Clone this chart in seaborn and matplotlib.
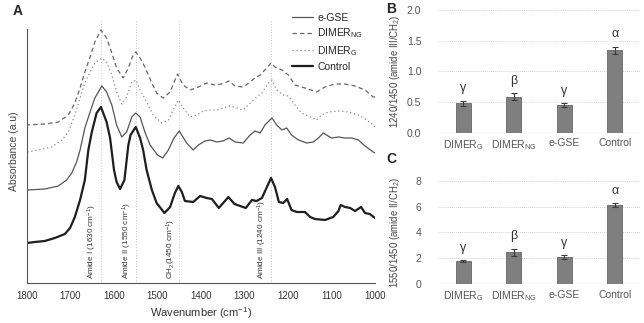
import matplotlib
matplotlib.use("Agg")
import matplotlib.pyplot as plt
import seaborn as sns

# ---- panel A: FTIR spectra, absorbance in arbitrary units
wn_control = [1800, 1782, 1759, 1736, 1713, 1701, 1690, 1678, 1667, 1659, 1651, 1640,
              1630, 1617, 1609, 1600, 1594, 1586, 1576, 1567, 1562, 1550, 1540, 1533,
              1525, 1513, 1502, 1484, 1471, 1460, 1452, 1444, 1437, 1418, 1402, 1387,
              1375, 1359, 1337, 1323, 1310, 1297, 1283, 1272, 1260, 1239, 1230, 1221,
              1211, 1202, 1192, 1180, 1161, 1149, 1138, 1115, 1096, 1084, 1079, 1069,
              1057, 1046, 1032, 1023, 1012, 1000]
abs_control = [0.40, 0.41, 0.42, 0.45, 0.49, 0.55, 0.66, 0.83, 1.03, 1.33, 1.51, 1.70,
               1.76, 1.61, 1.45, 1.13, 1.01, 0.94, 1.03, 1.38, 1.48, 1.56, 1.45, 1.33,
               1.13, 0.93, 0.80, 0.70, 0.76, 0.90, 0.97, 0.91, 0.82, 0.81, 0.87, 0.85,
               0.84, 0.75, 0.86, 0.79, 0.77, 0.75, 0.83, 0.82, 0.85, 1.05, 0.96, 0.81,
               0.80, 0.84, 0.73, 0.71, 0.71, 0.66, 0.64, 0.63, 0.66, 0.72, 0.78, 0.76,
               0.75, 0.72, 0.76, 0.70, 0.69, 0.65]

wn_egse = [1800, 1759, 1728, 1709, 1697, 1686, 1678, 1667, 1655, 1644, 1628, 1617,
           1605, 1594, 1582, 1571, 1559, 1550, 1540, 1529, 1517, 1500, 1488, 1475,
           1462, 1450, 1433, 1418, 1406, 1391, 1378, 1364, 1350, 1335, 1322, 1303,
           1287, 1276, 1264, 1253, 1237, 1226, 1214, 1203, 1192, 1176, 1157, 1142,
           1130, 1119, 1100, 1084, 1069, 1054, 1038, 1023, 1004, 1000]
abs_egse = [0.93, 0.94, 0.97, 1.03, 1.10, 1.21, 1.33, 1.55, 1.71, 1.85, 1.97, 1.91,
            1.78, 1.58, 1.46, 1.51, 1.66, 1.70, 1.66, 1.51, 1.38, 1.28, 1.25, 1.33,
            1.45, 1.52, 1.40, 1.33, 1.38, 1.42, 1.43, 1.41, 1.42, 1.45, 1.41, 1.40,
            1.48, 1.52, 1.50, 1.58, 1.65, 1.58, 1.53, 1.55, 1.48, 1.43, 1.40, 1.41,
            1.45, 1.50, 1.45, 1.46, 1.45, 1.45, 1.43, 1.37, 1.31, 1.30]

wn_dimer_g = [1800, 1774, 1743, 1720, 1705, 1690, 1678, 1667, 1655, 1644, 1628, 1617,
              1605, 1594, 1582, 1571, 1559, 1549, 1540, 1525, 1510, 1490, 1475, 1464,
              1452, 1441, 1425, 1410, 1395, 1379, 1364, 1349, 1333, 1318, 1303, 1287,
              1272, 1260, 1245, 1237, 1226, 1211, 1199, 1184, 1169, 1149, 1134, 1123,
              1107, 1084, 1061, 1038, 1019, 1004, 1000]
abs_dimer_g = [1.31, 1.33, 1.36, 1.43, 1.51, 1.68, 1.85, 2.00, 2.11, 2.20, 2.25, 2.21,
               2.08, 1.91, 1.79, 1.86, 2.01, 2.03, 1.93, 1.81, 1.68, 1.60, 1.63, 1.73,
               1.83, 1.75, 1.66, 1.68, 1.72, 1.73, 1.73, 1.75, 1.77, 1.75, 1.73, 1.80,
               1.86, 1.90, 2.00, 2.03, 1.93, 1.88, 1.87, 1.78, 1.70, 1.66, 1.63, 1.68,
               1.71, 1.72, 1.71, 1.68, 1.63, 1.58, 1.56]

wn_dimer_ng = [1800, 1759, 1728, 1705, 1690, 1678, 1667, 1655, 1644, 1630, 1617, 1605,
               1594, 1579, 1567, 1558, 1550, 1540, 1529, 1513, 1502, 1487, 1471, 1454,
               1441, 1425, 1406, 1387, 1368, 1353, 1335, 1322, 1303, 1287, 1276, 1264,
               1249, 1239, 1230, 1214, 1199, 1184, 1161, 1134, 1115, 1092, 1069, 1046,
               1023, 1004, 1000]
abs_dimer_ng = [1.58, 1.59, 1.61, 1.68, 1.80, 1.95, 2.11, 2.26, 2.41, 2.53, 2.45, 2.30,
                2.15, 2.05, 2.15, 2.26, 2.31, 2.25, 2.16, 2.00, 1.90, 1.85, 1.91, 2.09,
                1.98, 1.93, 1.96, 2.00, 1.98, 1.99, 2.02, 1.97, 1.96, 2.01, 2.05, 2.08,
                2.15, 2.20, 2.16, 2.13, 2.08, 1.98, 1.95, 1.91, 1.96, 1.99, 1.99, 1.97,
                1.93, 1.86, 1.86]

peak_wn = [1630, 1550, 1450, 1240]
peak_labels = ["Amide I (1630 cm$^{-1}$)", "Amide II (1550 cm$^{-1}$)",
               "CH$_2$(1450 cm$^{-1}$)", "Amide III (1240 cm$^{-1}$)"]

# ---- panels B and C: band ratios
samples = ["DIMER$_G$", "DIMER$_{NG}$", "e-GSE", "Control"]
ratio_1240 = [0.48, 0.59, 0.45, 1.34]
err_1240 = [0.04, 0.05, 0.03, 0.06]
ratio_1550 = [1.78, 2.46, 2.07, 6.12]
err_1550 = [0.05, 0.28, 0.15, 0.12]
letters = ["γ", "β", "γ", "α"]

sns.set_style("white")
plt.rcParams["font.family"] = ["Liberation Sans", "DejaVu Sans"]
plt.rcParams["mathtext.default"] = "regular"

fig = plt.figure(figsize=(6.44, 3.23), dpi=100)
W, H = 644, 323

# ---------------- panel A
ax = fig.add_axes([27 / W, 1 - 283 / H, 348 / W, 263 / H])
spectra = [
    ("e-GSE", wn_egse, abs_egse, dict(color="#555555", linewidth=0.9, linestyle="-")),
    ("DIMER$_{NG}$", wn_dimer_ng, abs_dimer_ng, dict(color="#666666", linewidth=0.9, linestyle=(0, (3.5, 2.5)))),
    ("DIMER$_G$", wn_dimer_g, abs_dimer_g, dict(color="#8a8a8a", linewidth=0.9, linestyle=(0, (1, 2.2)))),
    ("Control", wn_control, abs_control, dict(color="#1e1e1e", linewidth=1.6, linestyle="-")),
]
for name, wn, ab, style in spectra:
    sns.lineplot(x=wn, y=ab, ax=ax, label=name, **style)
handles = list(ax.lines)

for w, lab in zip(peak_wn, peak_labels):
    ax.axvline(w, color="#c6c6c6", linestyle=(0, (1, 1.8)), linewidth=0.7, zorder=0)
    ax.text(w + 4, 0.04, lab, rotation=90, ha="right", va="bottom",
            fontsize=5.9, color="#333333")

ax.set_xlim(1800, 1000)
ax.set_ylim(0, 2.63)
ax.set_xticks(range(1000, 1801, 50))
ax.set_xticklabels([str(v) if v % 100 == 0 else "" for v in range(1000, 1801, 50)])
ax.set_yticks([])
ax.tick_params(axis="x", direction="out", length=3, width=0.6, color="#555555",
               labelsize=7, labelcolor="#333333", pad=3)
for s in ["top", "right"]:
    ax.spines[s].set_visible(False)
ax.spines["left"].set_bounds(0, 2.54)
for s in ["left", "bottom"]:
    ax.spines[s].set_color("#555555")
    ax.spines[s].set_linewidth(0.8)
ax.set_xlabel("Wavenumber (cm$^{-1}$)", fontsize=8, color="#333333", labelpad=3)
ax.set_ylabel("Absorbance (a.u)", fontsize=7.5, color="#444444", labelpad=6)
ax.legend(handles=handles, labels=[s[0] for s in spectra], loc="upper left",
          bbox_to_anchor=(292 / W, 1 - 13 / H), bbox_transform=fig.transFigure,
          frameon=False, fontsize=7.5, handlelength=2.0, handletextpad=0.4,
          labelspacing=0.35, borderpad=0, borderaxespad=0)
fig.text(18 / W, 1 - 11 / H, "A", fontsize=10, fontweight="bold", ha="center", va="center")


# ---------------- panels B and C
def ratio_panel(rect, values, errors, ymax, step, fmt, ylabel, tag, tag_y):
    bx = fig.add_axes(rect)
    sns.barplot(x=samples, y=values, ax=bx, color="#7f7f7f", width=0.29,
                edgecolor="#666666", linewidth=0.6, errorbar=None, saturation=1)
    bx.errorbar(range(len(values)), values, yerr=errors, fmt="none", ecolor="#3a3a3a",
                elinewidth=0.8, capsize=2.5, capthick=0.8)
    for i, (v, e, let) in enumerate(zip(values, errors, letters)):
        bx.annotate(let, (i, v + e), xytext=(0, 9), textcoords="offset points",
                    ha="center", va="center", fontsize=9, color="#333333")
    bx.set_xlim(-0.5, len(values) - 0.5)
    bx.set_ylim(0, ymax)
    ticks = [step * k for k in range(int(round(ymax / step)) + 1)]
    bx.set_yticks(ticks)
    bx.set_yticklabels([fmt.format(t) for t in ticks])
    bx.grid(axis="y", color="#d4d4d4", linestyle=(0, (1, 1)), linewidth=0.7)
    bx.set_axisbelow(True)
    for s in ["top", "right", "left", "bottom"]:
        bx.spines[s].set_visible(False)
    bx.axhline(0, color="#c8c8c8", linewidth=0.8, zorder=0.5)
    bx.tick_params(length=0, labelsize=7.5, labelcolor="#555555")
    bx.tick_params(axis="y", pad=12)
    bx.tick_params(axis="x", pad=4)
    bx.set_xlabel("")
    bx.set_ylabel(ylabel, fontsize=6.9, color="#444444")
    bx.yaxis.set_label_coords(-(438 - 402) / 202, 0.5)
    fig.text(391 / W, 1 - tag_y / H, tag, fontsize=10, fontweight="bold",
             ha="center", va="center")
    return bx


ratio_panel([438 / W, 1 - 132.7 / H, 202 / W, 122.7 / H], ratio_1240, err_1240,
            2.0, 0.5, "{:.1f}", "1240/1450 (amide III/CH$_2$)", "B", 9)
ratio_panel([438 / W, 1 - 284 / H, 202 / W, 103.3 / H], ratio_1550, err_1550,
            8, 2, "{:.0f}", "1550/1450 (amide II/CH$_2$)", "C", 159)

fig.savefig("out.png", dpi=100)
